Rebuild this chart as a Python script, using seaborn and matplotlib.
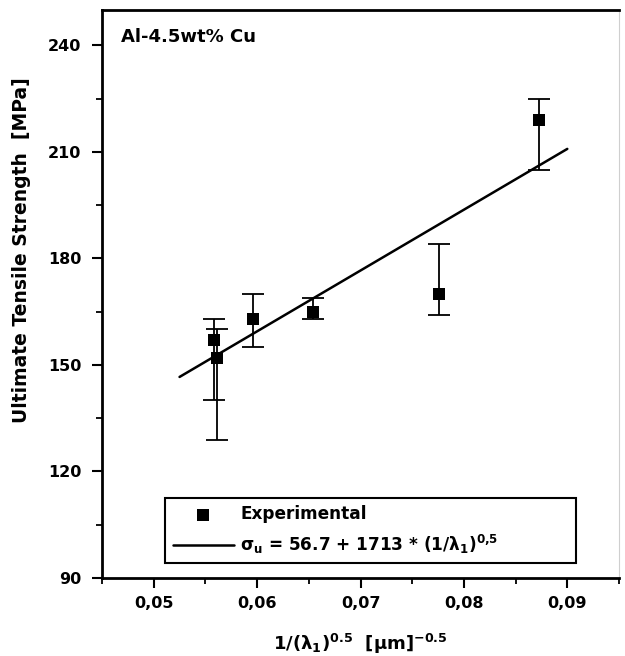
import matplotlib
matplotlib.use("Agg")
import matplotlib.pyplot as plt
from matplotlib.ticker import MultipleLocator, FuncFormatter
import numpy as np
import pandas as pd
import seaborn as sns

# Measured tensile strength vs. inverse square root of primary dendrite spacing
spacing_term = [0.0558, 0.0561, 0.0596, 0.0654, 0.0776, 0.0873]
strength = [157, 152, 163, 165, 170, 219]
strength_hi = [163, 160, 170, 169, 184, 225]
strength_lo = [140, 129, 155, 163, 164, 205]

# Linear fit sigma_u = a + b * (1/lambda_1)^0.5
fit_a = 56.7
fit_b = 1713
fit_range = [0.0525, 0.0900]

sns.set_theme(style="white")
plt.rcParams["font.family"] = ["DejaVu Sans"]
plt.rcParams["font.weight"] = "bold"
plt.rcParams["text.color"] = "black"
plt.rcParams["axes.labelcolor"] = "black"
plt.rcParams["mathtext.fontset"] = "custom"
plt.rcParams["mathtext.rm"] = "DejaVu Sans:bold"
plt.rcParams["mathtext.it"] = "DejaVu Sans:bold"
plt.rcParams["mathtext.bf"] = "DejaVu Sans:bold"

pts = pd.DataFrame({"x": spacing_term, "y": strength,
                    "hi": strength_hi, "lo": strength_lo})
xf = np.array(fit_range)
fit = pd.DataFrame({"x": xf, "y": fit_a + fit_b * xf})

fig = plt.figure(figsize=(6.25, 6.56), dpi=100)
ax = fig.add_axes([0.1632, 0.1189, 0.8272, 0.8659])

ax.errorbar(pts["x"], pts["y"],
            yerr=[pts["y"] - pts["lo"], pts["hi"] - pts["y"]],
            fmt="none", ecolor="black", elinewidth=1.3, capsize=8,
            capthick=1.3, zorder=2)
sns.lineplot(data=fit, x="x", y="y", ax=ax, color="black", linewidth=1.8,
             label=r"σ$_\mathregular{u}$ = 56.7 + 1713 * (1/λ$_1$)$^{0{,}5}$",
             zorder=3)
sns.scatterplot(data=pts, x="x", y="y", ax=ax, marker="s", s=85,
                color="black", edgecolor="black", linewidth=0,
                label="Experimental", zorder=4)

ax.set_xlim(0.045, 0.095)
ax.set_ylim(90, 250)
ax.xaxis.set_major_locator(MultipleLocator(0.01))
ax.xaxis.set_minor_locator(MultipleLocator(0.005))
ax.yaxis.set_major_locator(MultipleLocator(30))
ax.yaxis.set_minor_locator(MultipleLocator(15))
ax.xaxis.set_major_formatter(FuncFormatter(lambda v, p: f"{v:.2f}".replace(".", ",")))
ax.yaxis.set_major_formatter(FuncFormatter(lambda v, p: f"{v:.0f}"))

ax.tick_params(axis="both", which="major", direction="out", length=7,
               width=1.5, color="black", labelsize=11.5, labelcolor="black")
ax.tick_params(axis="both", which="minor", direction="out", length=4,
               width=1.3, color="black")
ax.tick_params(axis="x", which="both", bottom=True, top=False, pad=6)
ax.tick_params(axis="y", which="both", left=True, right=False, pad=8)

for side in ["left", "bottom", "top"]:
    ax.spines[side].set_color("black")
    ax.spines[side].set_linewidth(2)
ax.spines["right"].set_color("#cfcfcf")
ax.spines["right"].set_linewidth(0.8)

ax.set_xlabel(r"1/(λ$_1$)$^{0.5}$  [μm]$^{-0.5}$", fontsize=13,
              fontweight="bold", color="black")
ax.set_ylabel("Ultimate Tensile Strength  [MPa]", fontsize=13.5,
              fontweight="bold", color="black")
ax.xaxis.set_label_coords(0.5, -0.095)
ax.yaxis.set_label_coords(-0.137, 0.577)

ax.text(0.037, 0.953, "Al-4.5wt% Cu", transform=ax.transAxes, fontsize=13,
        fontweight="bold", ha="left", va="center", color="black")

handles, labels = ax.get_legend_handles_labels()
order = [labels.index("Experimental"), 1 - labels.index("Experimental")]
leg = ax.legend([handles[i] for i in order], [labels[i] for i in order],
                loc="lower left", bbox_to_anchor=(0.122, 0.026, 0.795, 0.125),
                mode="expand", borderaxespad=0, fancybox=False,
                edgecolor="black", framealpha=1, fontsize=12.2,
                handlelength=3.6, handletextpad=0.4, borderpad=0.45,
                labelspacing=0.55, scatterpoints=1)
leg.get_frame().set_linewidth(1.5)
for t in leg.get_texts():
    t.set_fontweight("bold")
    t.set_color("black")

fig.savefig("out.png", dpi=100, facecolor="white")
